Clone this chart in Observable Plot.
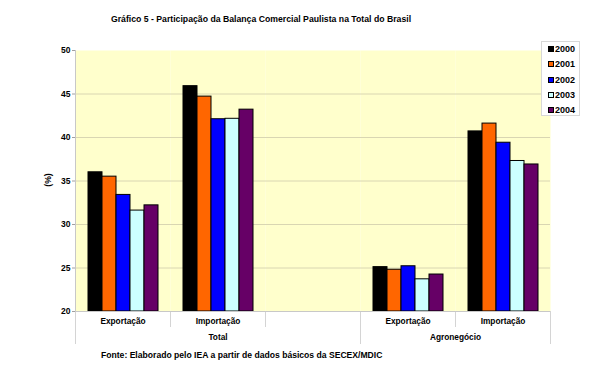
<!DOCTYPE html>
<html>
<head>
<meta charset="utf-8">
<script src="https://cdn.jsdelivr.net/npm/d3@7"></script>
<script src="https://cdn.jsdelivr.net/npm/@observablehq/plot@0.6"></script>
<style>
  html, body { margin: 0; padding: 0; background: #fff; }
  #wrap { position: relative; width: 591px; height: 366px; overflow: hidden; font-family: "Liberation Sans", Arial, sans-serif; font-weight: bold; color: #000; }
  #wrap svg { position: absolute; left: 0; top: 0; z-index: 1; }
  .ov { position: absolute; white-space: nowrap; z-index: 2; }
  #title { left: 0; width: 522px; top: 14px; text-align: center; font-size: 8.7px; line-height: 11px; }
  #fonte { left: 101px; top: 350px; font-size: 8.6px; line-height: 11px; }
  #ylab { left: 48px; top: 180px; font-size: 8.6px; line-height: 10px; transform: translate(-50%, -50%) rotate(-90deg); }
  #legend { left: 541px; top: 41px; width: 39px; height: 75px; background: #fff; border: 1px solid #d8d8d8; box-sizing: border-box; }
  .lrow { position: absolute; left: 0; width: 37px; height: 10px; }
  .sw { position: absolute; left: 6px; top: 2px; width: 6px; height: 6px; border: 1px solid #000; box-sizing: border-box; }
  .lt { position: absolute; left: 13px; top: 0; line-height: 10px; font-size: 9px; }
</style>
</head>
<body>
<div id="wrap">
  <div id="title" class="ov"></div>
  <div id="ylab" class="ov"></div>
  <div id="legend" class="ov"></div>
  <div id="fonte" class="ov"></div>
</div>
<script>
// ---- data ----
const titleText = "Gráfico 5 - Participação da Balança Comercial Paulista na Total do Brasil";
const sourceText = "Fonte: Elaborado pelo IEA a partir de dados básicos da SECEX/MDIC";
const yLabel = "(%)";
const years = ["2000", "2001", "2002", "2003", "2004"];
const colors = ["#000000", "#FF6600", "#0000FF", "#CCFFFF", "#660066"];
const sectors = ["Total", "Agronegócio"];
const flows = ["Exportação", "Importação"];
const totalExport = [36.0, 35.5, 33.4, 31.6, 32.2];
const totalImport = [45.9, 44.7, 42.1, 42.15, 43.2];
const agroExport = [25.1, 24.8, 25.2, 23.7, 24.25];
const agroImport = [40.7, 41.6, 39.4, 37.3, 36.9];
const yTicks = [20, 25, 30, 35, 40, 45, 50];
const gridTicks = [25, 30, 35, 40, 45];

// ---- build table ----
const groupKeys = [
  sectors[0] + "|" + flows[0],
  sectors[0] + "|" + flows[1],
  sectors[0] + "|",
  sectors[1] + "|" + flows[0],
  sectors[1] + "|" + flows[1]
];
const series = [
  [groupKeys[0], totalExport],
  [groupKeys[1], totalImport],
  [groupKeys[3], agroExport],
  [groupKeys[4], agroImport]
];
const rows = [];
series.forEach(([g, vals]) => years.forEach((yr, i) => rows.push({g, year: yr, v: vals[i]})));
const flowOf = g => g.split("|")[1];

const FONT = "'Liberation Sans', Arial, sans-serif";

const plot = Plot.plot({
  width: 591,
  height: 366,
  marginTop: 50,
  marginBottom: 55,
  marginLeft: 75,
  marginRight: 41,
  style: {fontFamily: FONT, fontSize: "8.5px", fontWeight: "bold", background: "transparent", color: "#000"},
  fx: {domain: groupKeys, padding: 0},
  x: {domain: years, paddingInner: 0, paddingOuter: 0.78, axis: null},
  y: {domain: [20, 50]},
  color: {domain: years, range: colors},
  marks: [
    Plot.frame({fill: "#FFFFCC", stroke: "none"}),
    Plot.gridY({ticks: gridTicks, stroke: "#d9d6b2", strokeOpacity: 1}),
    Plot.dot(groupKeys, {fx: d => d, r: 0}),
    Plot.barY(rows, {fx: "g", x: "year", y1: 20, y2: "v", fill: "year", stroke: "#000", strokeWidth: 1, inset: 0}),
    Plot.axisY({ticks: yTicks, tickSize: 3, tickPadding: 2, tickFormat: d => String(d), label: null, stroke: "#a0a0a0", fontWeight: "bold", fontSize: 8.5}),
    Plot.axisFx({anchor: "bottom", tickSize: 0, tickPadding: 7, tickFormat: flowOf, label: null, fontWeight: "bold", fontSize: 8.3}),
    Plot.text([{g: groupKeys[1], t: sectors[0]}], {fx: "g", text: "t", frameAnchor: "bottom", dy: 28, fontWeight: "bold", fontSize: 8.3}),
    Plot.text([{g: groupKeys[3], t: sectors[1]}], {fx: "g", text: "t", frameAnchor: "bottom-right", textAnchor: "middle", dy: 28, fontWeight: "bold", fontSize: 8.3})
  ]
});

document.getElementById("wrap").appendChild(plot);

// category-axis separator lines and axis lines, positioned with Plot's fx and y scales
const fxs = plot.scale("fx");
const ys = plot.scale("y");
const fxRange = fxs.range || [75, 550];
const band = d3.scaleBand().domain(fxs.domain).range(fxRange).padding(0);
const yScale = d3.scaleLinear().domain(ys.domain).range(ys.range);
const yBottom = yScale(ys.domain[0]);
const yTop = yScale(ys.domain[1]);
const edges = fxs.domain.map(d => band(d)).concat([band.range()[1]]);
const longIdx = new Set([0, 3, 5]);
const g = d3.select(plot).append("g").attr("stroke-width", 1).attr("shape-rendering", "crispEdges");
edges.forEach((x, i) => {
  g.append("line")
    .attr("x1", x).attr("x2", x)
    .attr("y1", yBottom).attr("y2", yBottom + (longIdx.has(i) ? 33 : 16))
    .attr("stroke", "#d4d4d4");
});
g.append("line").attr("x1", edges[0]).attr("x2", edges[5]).attr("y1", yBottom).attr("y2", yBottom).attr("stroke", "#c8c8c8");
g.append("line").attr("x1", edges[0]).attr("x2", edges[0]).attr("y1", yTop).attr("y2", yBottom).attr("stroke", "#c8c8c8");

// HTML texts
document.getElementById("title").textContent = titleText;
document.getElementById("fonte").textContent = sourceText;
document.getElementById("ylab").textContent = yLabel;
const leg = document.getElementById("legend");
const rowTops = [2, 17, 33, 48, 63];
years.forEach((yr, i) => {
  const r = document.createElement("div");
  r.className = "lrow";
  r.style.top = rowTops[i] + "px";
  const s = document.createElement("div");
  s.className = "sw";
  s.style.background = colors[i];
  r.appendChild(s);
  const t = document.createElement("div");
  t.className = "lt";
  t.textContent = yr;
  r.appendChild(t);
  leg.appendChild(r);
});
</script>
</body>
</html>
